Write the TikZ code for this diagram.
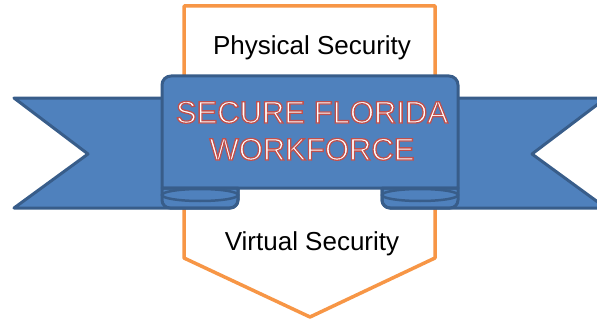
\documentclass[tikz,border=0pt]{standalone}
\usepackage{fontspec}
\setmainfont{Liberation Sans}

\definecolor{ribbonblue}{HTML}{4F81BD}
\definecolor{ribbonedge}{HTML}{385D8A}
\definecolor{folddark}{HTML}{4471A8}
\definecolor{shieldorange}{HTML}{F79646}
\definecolor{titlered}{HTML}{C0504D}

% white letters with a red outline (text render mode 2)
\newcommand{\outlined}[1]{\special{pdf:literal direct 2 Tr 1.3 w 0.753 0.314 0.302 RG}#1\special{pdf:literal direct 0 Tr}}

\tikzset{
  ribbon/.style={fill=ribbonblue, draw=ribbonedge, line width=3pt, line join=round},
  fold/.style={fill=folddark, draw=ribbonedge, line width=3pt, line join=round},
  shield/.style={fill=white, draw=shieldorange, line width=3.5pt, line join=round},
  sidetext/.style={font=\fontsize{26}{30}\selectfont, text=black, inner sep=0pt, anchor=base},
  titletext/.style={font=\fontsize{31}{36}\selectfont, text=white, inner sep=0pt, anchor=base}
}

\begin{document}
\begin{tikzpicture}[x=1pt,y=-1pt]
        \clip (0,0) rectangle (597,321);
        % shield behind the ribbon
        \draw[shield] (184,6) -- (435,6) -- (435,258) -- (310,317) -- (184,258) -- cycle;

        % the two wings
        \draw[ribbon] (14,98) -- (238,98) -- (238,200) to[out=-90,in=0] (230,208)
            -- (14,208) -- (88,154) -- cycle;
        \draw[ribbon] (606,98) -- (382,98) -- (382,200) to[out=-90,in=180] (390,208)
            -- (606,208) -- (532,154) -- cycle;

        % front panel
        \draw[ribbon] (162,188) -- (162,85) to[out=90,in=180] (171,76) -- (449,76)
            to[out=0,in=90] (458,85) -- (458,188) -- cycle;

        % folds under the panel
        \begin{scope}[fold]
            \draw (162,188) -- (162,200) to[out=-90,in=180] (170,208) -- (230,208)
                to[out=0,in=-90] (238,200) -- (238,188) -- cycle;
            \draw (458,188) -- (458,200) to[out=-90,in=0] (450,208) -- (390,208)
                to[out=180,in=-90] (382,200) -- (382,188) -- cycle;
        \end{scope}
        \draw[ribbonedge, line width=2.5pt] (200,195) ellipse [x radius=38, y radius=6];
        \draw[ribbonedge, line width=2.5pt] (420,195) ellipse [x radius=38, y radius=6];

        % texts
        \node[sidetext] (physical) at (312,55) {Physical Security};
        \node[sidetext] (virtual) at (312,250) {Virtual Security};
        \node[titletext] (secure) at (312,123) {\outlined{SECURE FLORIDA}};
        \node[titletext] (workforce) at (312,160) {\outlined{WORKFORCE}};
\end{tikzpicture}
\end{document}
